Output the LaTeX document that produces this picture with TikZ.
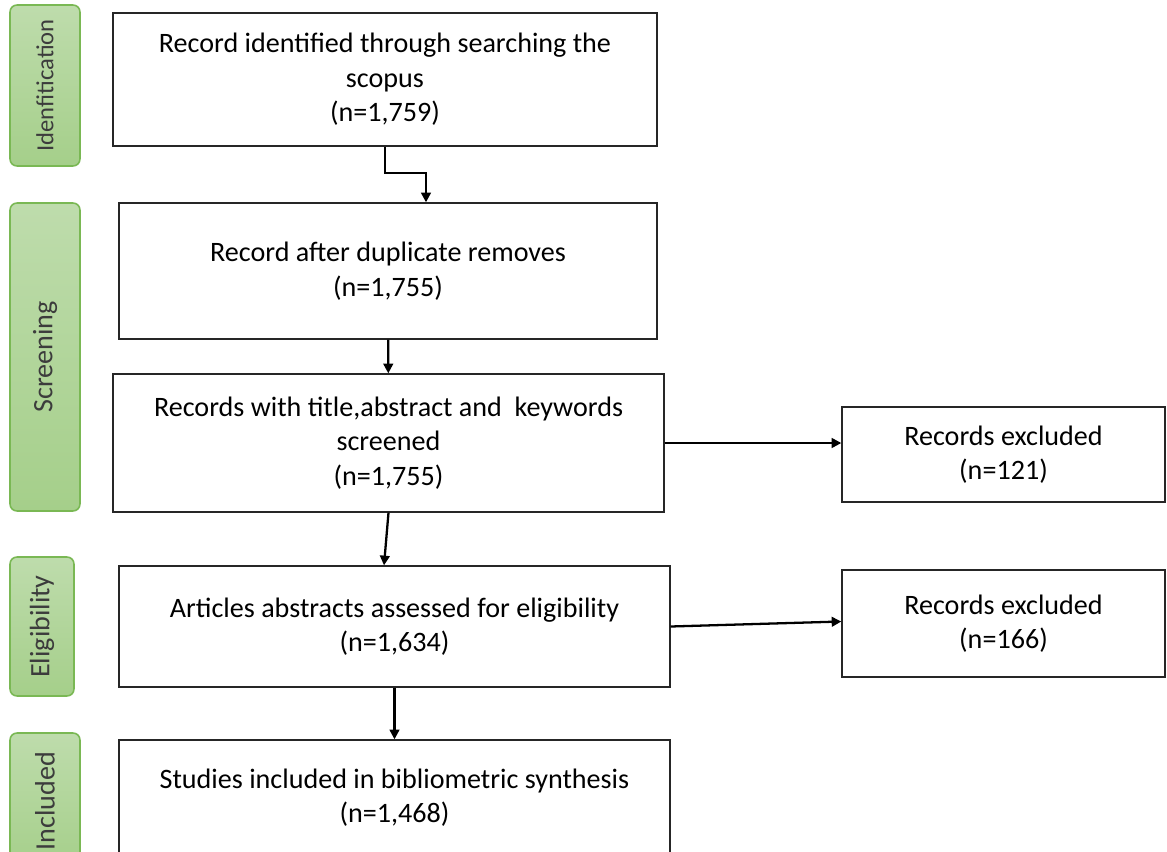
\documentclass[tikz,border=0pt]{standalone}
\usepackage{fontspec}
\setmainfont{Carlito}
\usepackage{graphicx}
\usetikzlibrary{arrows.meta, positioning, calc}
\definecolor{stagetop}{RGB}{190,220,172}
\definecolor{stagebot}{RGB}{165,207,138}
\definecolor{stageedge}{RGB}{122,184,84}
\definecolor{stagetext}{RGB}{60,60,60}
\tikzset{
  box/.style={rectangle, draw=black!85, line width=0.8pt, fill=white,
              align=center, font=\fontsize{16}{19.6}\selectfont},
  stage/.style={rectangle, rounded corners=0.14cm, draw=stageedge, line width=0.9pt,
                top color=stagetop, bottom color=stagebot, minimum width=1.4cm,
                text=stagetext, font=\fontsize{16}{19.6}\selectfont},
  arrow/.style={-{Triangle[length=5.5pt,width=5.5pt]}, line width=1.3pt},
}

\begin{document}
\begin{tikzpicture}[x=0.02cm, y=-0.02cm]
  \useasboundingbox (0,0) rectangle (1167,852);
  \clip (0,0) rectangle (1167,852);

  % stages
  \node[stage, minimum height=3.22cm, font=\fontsize{14}{17}\selectfont] (ident) at (45,85.5) {\rotatebox{90}{Idenfitication}};
  \node[stage, minimum height=6.16cm] (screen) at (45,357) {\rotatebox{90}{Screening}};
  \node[stage, minimum height=2.78cm, minimum width=1.28cm] (elig) at (42,626.5) {\rotatebox{90}{Eligibility}};
  \node[stage, minimum height=2.72cm] (incl) at (45,801) {\rotatebox{90}{Included}};

  % main flow
  \node[box, minimum width=10.88cm, minimum height=2.66cm] (found) at (385,79.5)
       {Record identified through searching the\\ scopus\\ (n=1,759)};
  \node[box, minimum width=10.76cm, minimum height=2.72cm] (dedup) at (388,271)
       {Record after duplicate removes\\ (n=1,755)};
  \node[box, minimum width=11.02cm, minimum height=2.76cm] (screened) at (388.5,443)
       {Records with title,abstract and~ keywords\\ screened\\ (n=1,755)};
  \node[box, minimum width=11.02cm, minimum height=2.42cm] (assessed) at (394.5,626.5)
       {Articles abstracts assessed for eligibility\\ (n=1,634)};
  \node[box, minimum width=11.02cm, minimum height=2.3cm] (included) at (394.5,797.5)
       {Studies included in bibliometric synthesis\\ (n=1,468)};

  % exclusions
  \node[box, minimum width=6.46cm, minimum height=1.9cm] (excla) at (1003.5,454.5)
       {Records excluded\\ (n=121)};
  \node[box, minimum width=6.46cm, minimum height=2.14cm] (exclb) at (1003.5,623.5)
       {Records excluded\\ (n=166)};

  \draw[arrow] (found.south) -- ++(0,26) -| ([xshift=0.76cm]dedup.north);
  \draw[arrow] (dedup) -- (screened);
  \draw[arrow] (screened.south) -- ([xshift=-0.21cm]assessed.north);
  \draw[arrow] (assessed) -- (included);
  \draw[arrow] (screened.east) -- (screened.east -| excla.west);
  \draw[arrow] (assessed.east) -- ([yshift=0.1cm]assessed.east -| exclb.west);
\end{tikzpicture}
\end{document}
